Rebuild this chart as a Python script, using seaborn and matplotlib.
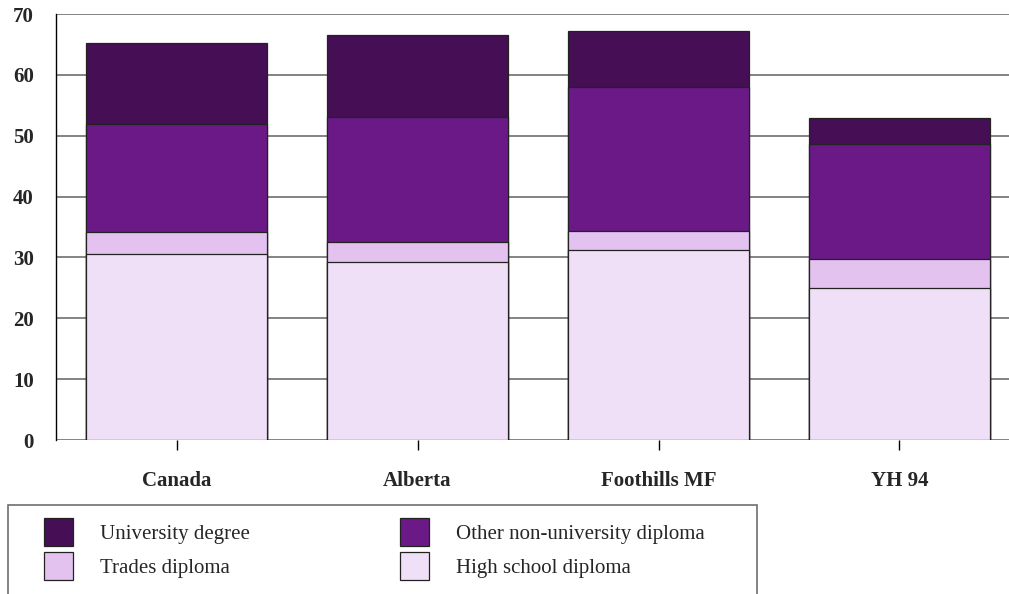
import matplotlib
matplotlib.use("Agg")
import matplotlib.pyplot as plt
from matplotlib.patches import Patch, Rectangle
import seaborn as sns
import numpy as np
import pandas as pd

# data (percent of population)
regions = ["Canada", "Alberta", "Foothills MF", "YH 94"]
high_school = [30.5, 29.2, 31.2, 24.9]
trades = [3.7, 3.3, 3.2, 4.8]
other_diploma = [17.8, 20.5, 23.6, 18.9]
university = [13.3, 13.5, 9.2, 4.3]

levels = ["High school diploma", "Trades diploma", "Other non-university diploma", "University degree"]
colors = {"University degree": "#460e55",
          "Other non-university diploma": "#6a1986",
          "Trades diploma": "#e3c2f0",
          "High school diploma": "#f0e0f7"}

sns.set_style("white")
plt.rcParams["font.family"] = ["Liberation Serif", "DejaVu Serif"]

df = pd.DataFrame({"region": regions,
                   "High school diploma": high_school,
                   "Trades diploma": trades,
                   "Other non-university diploma": other_diploma,
                   "University degree": university})
cum = df[levels].cumsum(axis=1)

fig = plt.figure(figsize=(10.09, 5.94), dpi=100)
ax = fig.add_axes([56 / 1009, 154 / 594, 964 / 1009, 426 / 594])

# stacked bars: draw cumulative totals from the top layer down
for lvl in reversed(levels):
    sns.barplot(x=df["region"], y=cum[lvl], color=colors[lvl], saturation=1,
                width=0.75, edgecolor="#222222", linewidth=0.9, ax=ax, zorder=3)

ax.set_ylim(0, 70)
ax.set_xlim(-0.5, 3.5)
ax.set_yticks(range(0, 71, 10))
ax.yaxis.grid(True, color="#6e6e6e", linewidth=1.2, zorder=0)
ax.set_axisbelow(True)
ax.set_xlabel("")
ax.set_ylabel("")
for s in ["top", "right", "bottom"]:
    ax.spines[s].set_visible(False)
ax.spines["left"].set_color("black")
ax.spines["left"].set_linewidth(1.0)
ax.tick_params(axis="y", length=10, width=1.2, color="#6e6e6e", pad=6, labelsize=15)
ax.tick_params(axis="x", length=7, width=1.0, color="black", pad=15, labelsize=15, bottom=True)
for t in ax.get_xticklabels() + ax.get_yticklabels():
    t.set_fontweight("bold")

# legend box
fig.patches.append(Rectangle((8 / 1009, -0.05), 749 / 1009, 0.05 + 89 / 594,
                             transform=fig.transFigure, fill=False,
                             edgecolor="#6e6e6e", linewidth=1.2))
order = ["University degree", "Trades diploma", "Other non-university diploma", "High school diploma"]
handles = [Patch(facecolor=colors[o], edgecolor="#222222", linewidth=0.9) for o in order]
fig.legend(handles, order, loc="upper left", bbox_to_anchor=(36 / 1009, 1 - 510 / 594),
           ncol=2, frameon=False, fontsize=15, handlelength=1.39, handleheight=1.68,
           handletextpad=1.3, columnspacing=7.2, labelspacing=0.3, borderaxespad=0)

fig.savefig("out.png", dpi=100)
